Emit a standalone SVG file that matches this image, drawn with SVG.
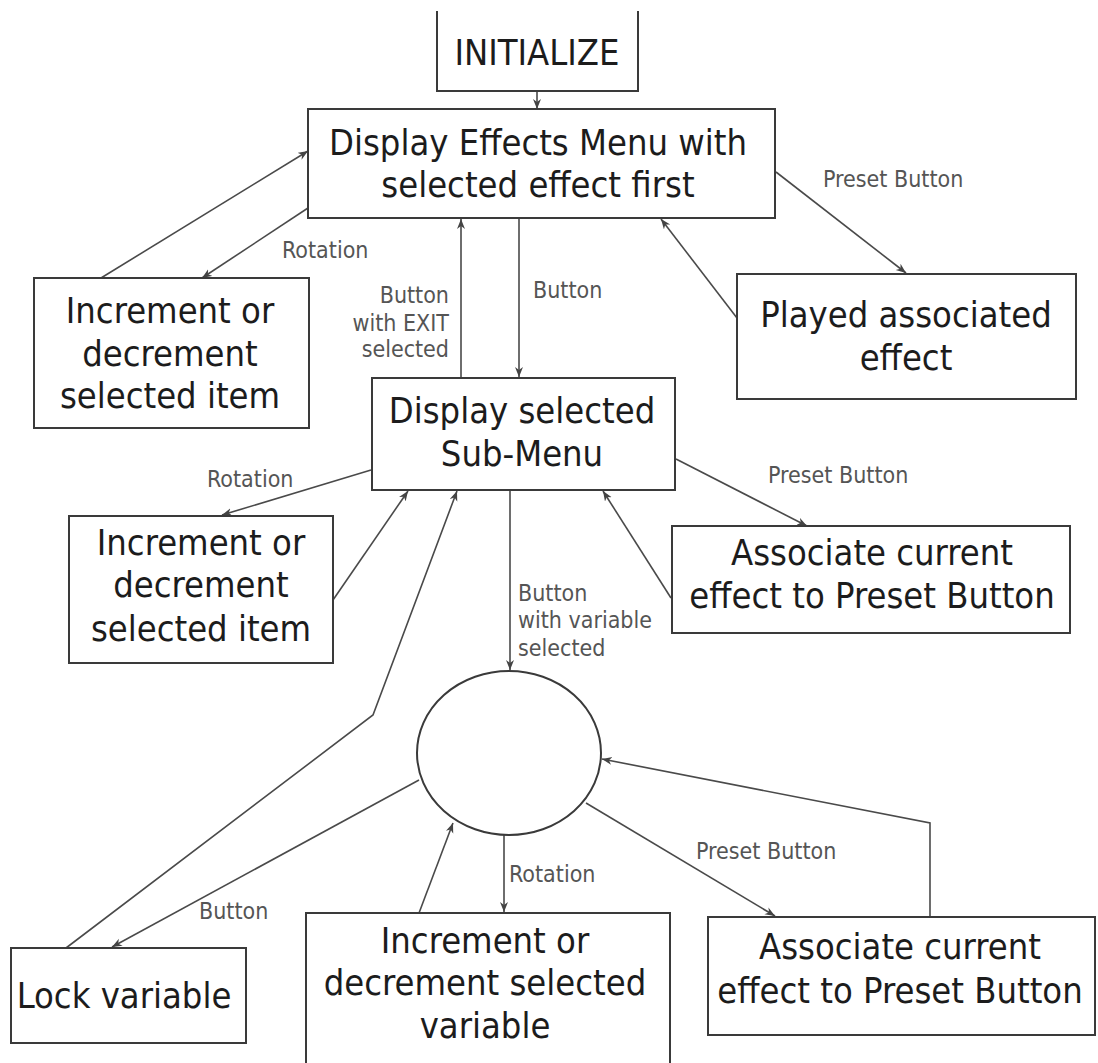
<svg xmlns="http://www.w3.org/2000/svg" width="1098" height="1063" viewBox="0 0 1098 1063">
<defs>
<style>
.box{fill:#fff;stroke:#3a3a3a;stroke-width:2}
.t{font-family:"DejaVu Sans Condensed","DejaVu Sans",sans-serif;font-size:36px;fill:#1c1c1c;text-anchor:middle}
.lbl{font-family:"DejaVu Sans Condensed","DejaVu Sans",sans-serif;font-size:23px;fill:#555}
.c{fill:none;stroke:#4a4a4a;stroke-width:1.6}
.a{marker-end:url(#arr)}
</style>
<marker id="arr" markerUnits="userSpaceOnUse" markerWidth="12" markerHeight="10" refX="10" refY="4" orient="auto">
<path d="M0,0 L10,4 L0,8 L3,4 z" fill="#444"/>
</marker>
</defs>
<rect width="1098" height="1063" fill="#fff"/>

<g id="connectors">
<line class="c a" x1="537" y1="91" x2="537" y2="109"/>
<line class="c a" x1="101" y1="278" x2="308" y2="151"/>
<line class="c a" x1="308" y1="208" x2="202" y2="278"/>
<line class="c a" x1="461" y1="378" x2="461" y2="219"/>
<line class="c a" x1="519" y1="218" x2="519" y2="377"/>
<line class="c a" x1="776" y1="172" x2="906" y2="273"/>
<line class="c a" x1="737" y1="318" x2="661" y2="219"/>
<line class="c a" x1="371" y1="470" x2="222" y2="515"/>
<line class="c a" x1="333" y1="600" x2="408" y2="491"/>
<polyline class="c a" points="66,948 373,715 457,491"/>
<line class="c a" x1="510" y1="490" x2="510" y2="670"/>
<line class="c a" x1="676" y1="459" x2="807" y2="526"/>
<line class="c a" x1="671" y1="598" x2="603" y2="491"/>
<line class="c a" x1="419" y1="780" x2="112" y2="947"/>
<line class="c a" x1="419" y1="913" x2="453" y2="823"/>
<line class="c a" x1="504" y1="835" x2="504" y2="912"/>
<line class="c a" x1="586" y1="803" x2="775" y2="916"/>
<polyline class="c a" points="930,917 930,823 602,759"/>
<path class="c" d="M321,662 L333,652"/>
</g>

<g id="labels">
<text class="lbl" x="282" y="258">Rotation</text>
<text class="lbl" x="449" y="303" text-anchor="end">Button</text>
<text class="lbl" x="449" y="331" text-anchor="end">with EXIT</text>
<text class="lbl" x="449" y="357" text-anchor="end">selected</text>
<text class="lbl" x="533" y="298">Button</text>
<text class="lbl" x="823" y="187">Preset Button</text>
<text class="lbl" x="207" y="487">Rotation</text>
<text class="lbl" x="768" y="483">Preset Button</text>
<text class="lbl" x="518" y="601">Button</text>
<text class="lbl" x="518" y="628">with variable</text>
<text class="lbl" x="518" y="656">selected</text>
<text class="lbl" x="199" y="919">Button</text>
<text class="lbl" x="509" y="882">Rotation</text>
<text class="lbl" x="696" y="859">Preset Button</text>
</g>

<g id="initialize">
<path class="box" d="M437,11 L437,91 L638,91 L638,11"/>
<text class="t" x="537" y="65">INITIALIZE</text>
</g>

<g id="effects-menu">
<rect class="box" x="308" y="109" width="467" height="109"/>
<text class="t" x="538" y="155">Display Effects Menu with</text>
<text class="t" x="538" y="197">selected effect first</text>
</g>

<g id="inc-item-1">
<rect class="box" x="34" y="278" width="275" height="150"/>
<text class="t" x="170" y="323">Increment or</text>
<text class="t" x="170" y="366">decrement</text>
<text class="t" x="170" y="408">selected item</text>
</g>

<g id="played-effect">
<rect class="box" x="737" y="274" width="339" height="125"/>
<text class="t" x="906" y="327">Played associated</text>
<text class="t" x="906" y="370">effect</text>
</g>

<g id="sub-menu">
<rect class="box" x="372" y="378" width="303" height="112"/>
<text class="t" x="522" y="423">Display selected</text>
<text class="t" x="522" y="466">Sub-Menu</text>
</g>

<g id="inc-item-2">
<rect class="box" x="69" y="516" width="264" height="147"/>
<text class="t" x="201" y="555">Increment or</text>
<text class="t" x="201" y="597">decrement</text>
<text class="t" x="201" y="641">selected item</text>
</g>

<g id="associate-1">
<rect class="box" x="672" y="526" width="398" height="107"/>
<text class="t" x="872" y="565">Associate current</text>
<text class="t" x="872" y="608">effect to Preset Button</text>
</g>

<g id="variable-state">
<ellipse class="box" cx="509" cy="753" rx="92" ry="82"/>
</g>

<g id="lock-variable">
<rect class="box" x="11" y="948" width="235" height="95"/>
<text class="t" x="124" y="1008">Lock variable</text>
</g>

<g id="inc-variable">
<path class="box" d="M306,1063 L306,913 L670,913 L670,1063"/>
<text class="t" x="485" y="953">Increment or</text>
<text class="t" x="485" y="995">decrement selected</text>
<text class="t" x="485" y="1038">variable</text>
</g>

<g id="associate-2">
<rect class="box" x="708" y="917" width="387" height="118"/>
<text class="t" x="900" y="959">Associate current</text>
<text class="t" x="900" y="1003">effect to Preset Button</text>
</g>
</svg>
